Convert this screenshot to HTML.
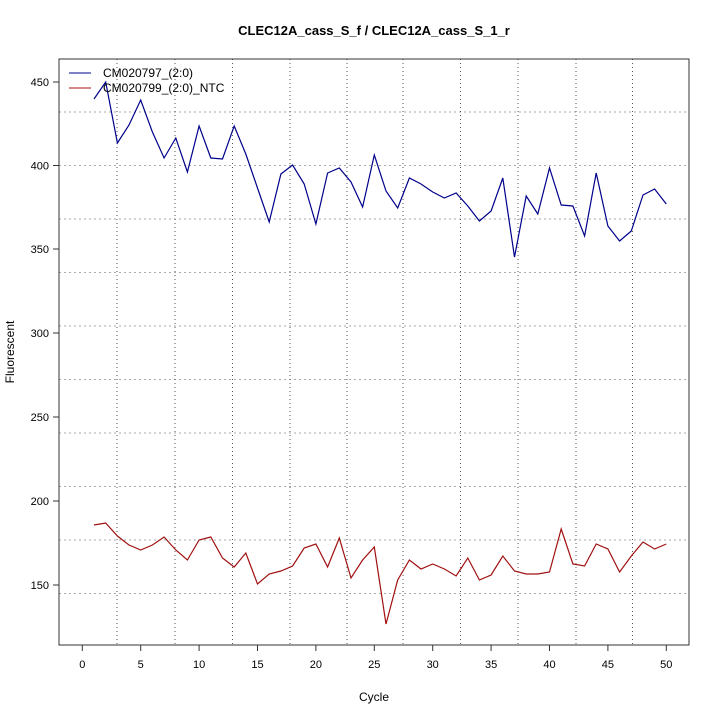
<!DOCTYPE html>
<html><head><style>body{margin:0;background:#fff}svg{display:block}</style></head><body>
<svg width="720" height="720" xmlns="http://www.w3.org/2000/svg" font-family="Liberation Sans, sans-serif">
<rect width="720" height="720" fill="#fff"/>
<g stroke="#aaa" stroke-dasharray="2,3" stroke-width="1">
<line x1="59" x2="689" y1="112" y2="112"/><line x1="59" x2="689" y1="165.5" y2="165.5"/><line x1="59" x2="689" y1="219" y2="219"/><line x1="59" x2="689" y1="272.5" y2="272.5"/><line x1="59" x2="689" y1="326" y2="326"/><line x1="59" x2="689" y1="379.5" y2="379.5"/><line x1="59" x2="689" y1="433" y2="433"/><line x1="59" x2="689" y1="486.5" y2="486.5"/><line x1="59" x2="689" y1="540" y2="540"/><line x1="59" x2="689" y1="593.5" y2="593.5"/>
</g>
<g stroke="#555" stroke-dasharray="1,3" stroke-width="1">
<line y1="59" y2="645" x1="117" x2="117"/><line y1="59" y2="645" x1="175" x2="175"/><line y1="59" y2="645" x1="232.5" x2="232.5"/><line y1="59" y2="645" x1="290" x2="290"/><line y1="59" y2="645" x1="347" x2="347"/><line y1="59" y2="645" x1="403" x2="403"/><line y1="59" y2="645" x1="460.5" x2="460.5"/><line y1="59" y2="645" x1="518" x2="518"/><line y1="59" y2="645" x1="576" x2="576"/><line y1="59" y2="645" x1="632.5" x2="632.5"/>
</g>
<rect x="59" y="59" width="630" height="586" fill="none" stroke="#333"/>
<polyline fill="none" stroke="#00008b" stroke-width="1.2" points="94,99 105.7,82 117.4,143 129,125 140.7,100 152.4,132 164.1,158 175.8,138 187.4,172 199.1,126 210.8,158 222.5,159 234.2,126 245.8,154 257.5,188 269.2,222 280.9,174 292.6,165 304.2,184 315.9,224 327.6,173 339.3,168 351,182 362.6,207 374.3,155 386,191 397.7,208 409.4,178 421,184 432.7,192 444.4,198 456.1,193 467.8,206 479.4,221 491.1,211 502.8,178 514.5,257 526.2,196 537.8,214 549.5,168 561.2,205 572.9,206 584.6,236 596.2,173 607.9,226 619.6,241 631.3,231 643,195 654.6,189 666.3,204"/>
<polyline fill="none" stroke="#a01010" stroke-width="1.2" points="94,525 105.7,523 117.4,536 129,545 140.7,550 152.4,545 164.1,537 175.8,550 187.4,560 199.1,540 210.8,537 222.5,558 234.2,567 245.8,553 257.5,584 269.2,574 280.9,571 292.6,566 304.2,548 315.9,544 327.6,567 339.3,538 351,578 362.6,560 374.3,547 386,624 397.7,580 409.4,560 421,569 432.7,564 444.4,569 456.1,576 467.8,558 479.4,580 491.1,575 502.8,556 514.5,571 526.2,574 537.8,574 549.5,572 561.2,529 572.9,564 584.6,566 596.2,544 607.9,549 619.6,572 631.3,556 643,542 654.6,549 666.3,544"/>
<line x1="69" x2="91" y1="73" y2="73" stroke="#00008b"/>
<line x1="69" x2="91" y1="88" y2="88" stroke="#a01010"/>
<g font-size="12" fill="#000">
<text x="103" y="77">CM020797_(2:0)</text>
<text x="103" y="92">CM020799_(2:0)_NTC</text>
<text x="374" y="35" font-weight="bold" font-size="13" text-anchor="middle">CLEC12A_cass_S_f / CLEC12A_cass_S_1_r</text>
<text x="374" y="701" text-anchor="middle">Cycle</text>
<text transform="translate(14,352) rotate(-90)" text-anchor="middle">Fluorescent</text>
</g>
<g stroke="#333">
<line x1="53" x2="59" y1="82" y2="82"/><line x1="53" x2="59" y1="165.5" y2="165.5"/><line x1="53" x2="59" y1="249" y2="249"/><line x1="53" x2="59" y1="333" y2="333"/><line x1="53" x2="59" y1="417" y2="417"/><line x1="53" x2="59" y1="501" y2="501"/><line x1="53" x2="59" y1="585" y2="585"/>
<line y1="645" y2="651" x1="82.3" x2="82.3"/><line y1="645" y2="651" x1="140.7" x2="140.7"/><line y1="645" y2="651" x1="199.1" x2="199.1"/><line y1="645" y2="651" x1="257.5" x2="257.5"/><line y1="645" y2="651" x1="315.9" x2="315.9"/><line y1="645" y2="651" x1="374.3" x2="374.3"/><line y1="645" y2="651" x1="432.7" x2="432.7"/><line y1="645" y2="651" x1="491.1" x2="491.1"/><line y1="645" y2="651" x1="549.5" x2="549.5"/><line y1="645" y2="651" x1="607.9" x2="607.9"/><line y1="645" y2="651" x1="666.3" x2="666.3"/>
</g>
<g font-size="11" fill="#000" text-anchor="end">
<text x="49" y="86">450</text><text x="49" y="169.5">400</text><text x="49" y="253">350</text><text x="49" y="337">300</text><text x="49" y="421">250</text><text x="49" y="505">200</text><text x="49" y="589">150</text>
</g>
<g font-size="11" fill="#000" text-anchor="middle">
<text x="82.3" y="668">0</text><text x="140.7" y="668">5</text><text x="199.1" y="668">10</text><text x="257.5" y="668">15</text><text x="315.9" y="668">20</text><text x="374.3" y="668">25</text><text x="432.7" y="668">30</text><text x="491.1" y="668">35</text><text x="549.5" y="668">40</text><text x="607.9" y="668">45</text><text x="666.3" y="668">50</text>
</g>
</svg>
</body></html>
